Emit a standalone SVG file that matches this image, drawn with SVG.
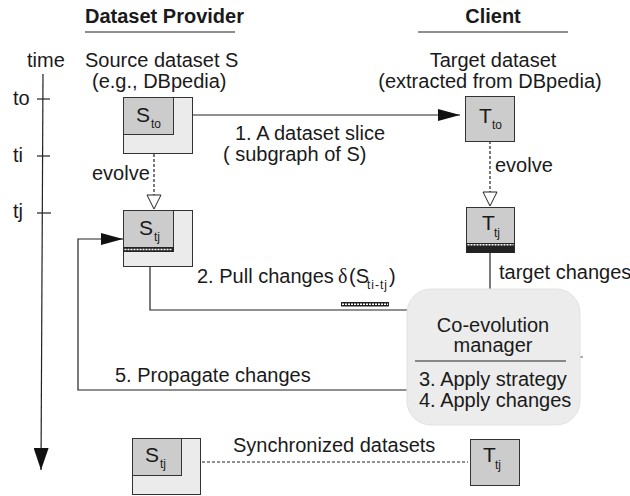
<svg xmlns="http://www.w3.org/2000/svg" width="630" height="496" viewBox="0 0 630 496">
<style>
.t{font-family:"Liberation Sans",Arial,sans-serif;font-size:20px;fill:#1a1a1a}
.b{font-weight:bold}
.m{text-anchor:middle}
.big{font-size:21px}
.sub{font-size:12px}
.outer{fill:#ebebeb;stroke:#333;stroke-width:1}
.inner{fill:#cccccc;stroke:#333;stroke-width:1}
.ln{stroke:#222;fill:none;stroke-width:1.2}
.dash{stroke-dasharray:3,2}
.bar{fill:#222}
.barw{stroke:#fff;stroke-width:1.6;stroke-dasharray:2,1;fill:none}
.mgr{fill:#ececec;stroke:#e2e2e2;stroke-width:1}
</style>
<defs>
<marker id="arr" viewBox="0 0 22 12" refX="22" refY="6" markerWidth="22" markerHeight="12" markerUnits="userSpaceOnUse" orient="auto">
<path d="M0,0 L22,6 L0,12 z" fill="#111"/>
</marker>
<marker id="arrT" viewBox="0 0 22 15" refX="22" refY="7.5" markerWidth="22" markerHeight="15" markerUnits="userSpaceOnUse" orient="auto">
<path d="M0,0 L22,7.5 L0,15 z" fill="#111"/>
</marker>
<marker id="open" viewBox="0 0 16 16" refX="15" refY="8" markerWidth="16" markerHeight="16" markerUnits="userSpaceOnUse" orient="auto">
<path d="M1,1 L15,8 L1,15 z" fill="#fff" stroke="#222" stroke-width="1"/>
</marker>
</defs>

<g id="headers">
<text class="t b" x="85" y="23">Dataset Provider</text>
<line class="ln" x1="85" y1="32" x2="235" y2="32" stroke-width="1"/>
<text class="t b m" x="493" y="23">Client</text>
<line class="ln" x1="418" y1="32" x2="568" y2="32" stroke-width="1"/>
<text class="t" x="85" y="67">Source dataset S</text>
<text class="t" x="92" y="88">(e.g., DBpedia)</text>
<text class="t m" x="493" y="67">Target dataset</text>
<text class="t m" x="490" y="88">(extracted from DBpedia)</text>
</g>

<g id="timeline">
<text class="t" x="27" y="67">time</text>
<line class="ln" x1="43" y1="74" x2="41" y2="470" marker-end="url(#arrT)"/>
<line class="ln" x1="37" y1="99" x2="50" y2="99"/>
<line class="ln" x1="37" y1="156" x2="50" y2="156"/>
<line class="ln" x1="37" y1="213" x2="51" y2="213"/>
<text class="t" x="13" y="105">to</text>
<text class="t" x="13" y="162">ti</text>
<text class="t" x="13" y="218">tj</text>
</g>

<g id="connectors">
<line class="ln" x1="171" y1="115" x2="460" y2="115" marker-end="url(#arr)"/>
<text class="t" x="235" y="140">1. A dataset slice</text>
<text class="t" x="223" y="161">( subgraph of S)</text>
<line class="ln dash" x1="154" y1="154" x2="154" y2="209" marker-end="url(#open)"/>
<text class="t" x="92" y="180">evolve</text>
<line class="ln dash" x1="490" y1="141" x2="490" y2="206" marker-end="url(#open)"/>
<text class="t" x="495" y="172">evolve</text>
<polyline class="ln" points="150,252 150,310 407,310"/>
<text class="t" x="197" y="283">2. Pull changes</text>
<text class="t" x="338" y="283" style="font-family:'Liberation Serif',serif">δ</text>
<text class="t" x="349" y="283">(S</text>
<text class="t sub" x="367" y="289" textLength="20" lengthAdjust="spacing">ti-tj</text>
<text class="t" x="389" y="283">)</text>
<rect class="bar" x="341" y="302" width="48" height="4.5"/>
<line class="barw" x1="342" y1="304.2" x2="388" y2="304.2"/>
<line class="ln" x1="490" y1="253" x2="490" y2="289"/>
<text class="t" x="499" y="279">target changes</text>
<polyline class="ln" points="407,390 78,390 78,239 123,239" marker-end="url(#arr)"/>
<text class="t" x="115" y="382">5. Propagate changes</text>
<line class="ln dash" x1="182" y1="462" x2="468" y2="462"/>
<text class="t" x="233" y="452">Synchronized datasets</text>
<line x1="580" y1="357" x2="583" y2="357" stroke="#555" stroke-width="1"/>
</g>

<g id="S_to">
<rect class="outer" x="123.5" y="97.5" width="69" height="56"/>
<rect class="inner" x="123.5" y="97.5" width="50" height="37"/>
<text class="t big" x="136" y="122">S</text>
<text class="t sub" x="151" y="128">to</text>
</g>

<g id="T_to">
<rect class="inner" x="465.5" y="96.5" width="49" height="45"/>
<text class="t big" x="479" y="123">T</text>
<text class="t sub" x="492" y="129">to</text>
</g>

<g id="S_tj">
<rect class="outer" x="123.5" y="210.5" width="69" height="56"/>
<rect class="inner" x="123.5" y="210.5" width="50" height="41"/>
<text class="t big" x="139" y="235">S</text>
<text class="t sub" x="154" y="241">tj</text>
<rect class="bar" x="123.5" y="247" width="50" height="5"/>
<line class="barw" x1="124.5" y1="249.5" x2="172.5" y2="249.5"/>
</g>

<g id="T_tj">
<rect class="inner" x="466.5" y="207.5" width="48" height="45"/>
<text class="t big" x="482" y="230">T</text>
<text class="t sub" x="494" y="237">tj</text>
<rect class="bar" x="466.5" y="243" width="48" height="10"/>
<line class="barw" x1="467.5" y1="244.8" x2="513.5" y2="244.8"/>
</g>

<g id="manager">
<rect class="mgr" x="407" y="289" width="173" height="136" rx="24"/>
<text class="t m" x="493" y="332">Co-evolution</text>
<text class="t m" x="493" y="352">manager</text>
<line class="ln" x1="415" y1="361" x2="566" y2="361" stroke-width="1"/>
<text class="t" x="419" y="386">3. Apply strategy</text>
<text class="t" x="419" y="407">4. Apply changes</text>
</g>

<g id="S_tj_sync">
<rect class="outer" x="132.5" y="438.5" width="68" height="56"/>
<rect class="inner" x="132.5" y="438.5" width="49" height="37"/>
<text class="t big" x="145" y="462">S</text>
<text class="t sub" x="160" y="468">tj</text>
</g>

<g id="T_tj_sync">
<rect class="inner" x="470.5" y="439.5" width="49" height="46"/>
<text class="t big" x="483" y="462">T</text>
<text class="t sub" x="495" y="469">tj</text>
</g>
</svg>
